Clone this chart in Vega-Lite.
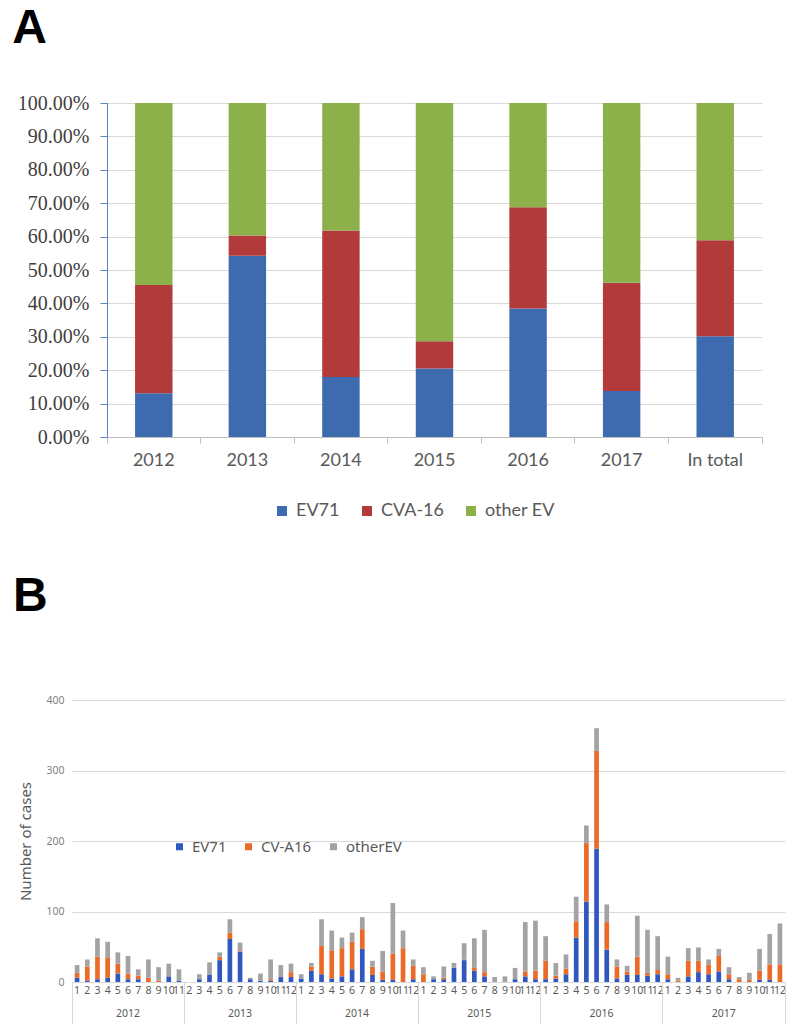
{
  "$schema": "https://vega.github.io/schema/vega-lite/v6.json",
  "background": "white",
  "padding": {"left": 11, "top": 5, "right": 0, "bottom": 0},
  "config": {"view": {"stroke": null}, "font": "Noto Sans"},
  "columns": 1,
  "spacing": 53,
  "resolve": {"scale": {"color": "independent"}, "legend": {"color": "independent"}},
  "datasets": {
    "pct": [
      {"year": "2012", "EV71": 0.131, "CVA-16": 0.324, "other EV": 0.545},
      {"year": "2013", "EV71": 0.543, "CVA-16": 0.060, "other EV": 0.397},
      {"year": "2014", "EV71": 0.180, "CVA-16": 0.438, "other EV": 0.382},
      {"year": "2015", "EV71": 0.205, "CVA-16": 0.082, "other EV": 0.713},
      {"year": "2016", "EV71": 0.385, "CVA-16": 0.303, "other EV": 0.312},
      {"year": "2017", "EV71": 0.138, "CVA-16": 0.324, "other EV": 0.538},
      {"year": "In total", "EV71": 0.302, "CVA-16": 0.287, "other EV": 0.411}
    ],
    "cases": [
      {"period": "2012-1", "EV71": 6, "CV-A16": 7, "otherEV": 11},
      {"period": "2012-2", "EV71": 2, "CV-A16": 20, "otherEV": 10},
      {"period": "2012-3", "EV71": 4, "CV-A16": 32, "otherEV": 26},
      {"period": "2012-4", "EV71": 6, "CV-A16": 29, "otherEV": 22},
      {"period": "2012-5", "EV71": 12, "CV-A16": 14, "otherEV": 16},
      {"period": "2012-6", "EV71": 4, "CV-A16": 8, "otherEV": 25},
      {"period": "2012-7", "EV71": 4, "CV-A16": 5, "otherEV": 9},
      {"period": "2012-8", "EV71": 0, "CV-A16": 6, "otherEV": 26},
      {"period": "2012-9", "EV71": 0, "CV-A16": 2, "otherEV": 19},
      {"period": "2012-10", "EV71": 8, "CV-A16": 0, "otherEV": 18},
      {"period": "2012-11", "EV71": 2, "CV-A16": 0, "otherEV": 16},
      {"period": "2013-2", "EV71": 0, "CV-A16": 0, "otherEV": 0},
      {"period": "2013-3", "EV71": 4, "CV-A16": 0, "otherEV": 7},
      {"period": "2013-4", "EV71": 10, "CV-A16": 0, "otherEV": 18},
      {"period": "2013-5", "EV71": 31, "CV-A16": 5, "otherEV": 6},
      {"period": "2013-6", "EV71": 61, "CV-A16": 9, "otherEV": 19},
      {"period": "2013-7", "EV71": 43, "CV-A16": 1, "otherEV": 12},
      {"period": "2013-8", "EV71": 4, "CV-A16": 0, "otherEV": 2},
      {"period": "2013-9", "EV71": 2, "CV-A16": 0, "otherEV": 10},
      {"period": "2013-10", "EV71": 2, "CV-A16": 2, "otherEV": 28},
      {"period": "2013-11", "EV71": 7, "CV-A16": 0, "otherEV": 17},
      {"period": "2013-12", "EV71": 7, "CV-A16": 7, "otherEV": 12},
      {"period": "2014-1", "EV71": 5, "CV-A16": 0, "otherEV": 6},
      {"period": "2014-2", "EV71": 16, "CV-A16": 6, "otherEV": 5},
      {"period": "2014-3", "EV71": 11, "CV-A16": 40, "otherEV": 38},
      {"period": "2014-4", "EV71": 5, "CV-A16": 40, "otherEV": 28},
      {"period": "2014-5", "EV71": 8, "CV-A16": 40, "otherEV": 15},
      {"period": "2014-6", "EV71": 18, "CV-A16": 39, "otherEV": 13},
      {"period": "2014-7", "EV71": 47, "CV-A16": 28, "otherEV": 17},
      {"period": "2014-8", "EV71": 10, "CV-A16": 12, "otherEV": 8},
      {"period": "2014-9", "EV71": 3, "CV-A16": 12, "otherEV": 29},
      {"period": "2014-10", "EV71": 3, "CV-A16": 37, "otherEV": 72},
      {"period": "2014-11", "EV71": 0, "CV-A16": 48, "otherEV": 25},
      {"period": "2014-12", "EV71": 4, "CV-A16": 19, "otherEV": 9},
      {"period": "2015-1", "EV71": 0, "CV-A16": 11, "otherEV": 10},
      {"period": "2015-2", "EV71": 4, "CV-A16": 0, "otherEV": 4},
      {"period": "2015-3", "EV71": 4, "CV-A16": 2, "otherEV": 16},
      {"period": "2015-4", "EV71": 20, "CV-A16": 0, "otherEV": 7},
      {"period": "2015-5", "EV71": 31, "CV-A16": 1, "otherEV": 23},
      {"period": "2015-6", "EV71": 16, "CV-A16": 4, "otherEV": 42},
      {"period": "2015-7", "EV71": 8, "CV-A16": 6, "otherEV": 60},
      {"period": "2015-8", "EV71": 0, "CV-A16": 0, "otherEV": 7},
      {"period": "2015-9", "EV71": 0, "CV-A16": 0, "otherEV": 8},
      {"period": "2015-10", "EV71": 4, "CV-A16": 0, "otherEV": 16},
      {"period": "2015-11", "EV71": 8, "CV-A16": 7, "otherEV": 70},
      {"period": "2015-12", "EV71": 4, "CV-A16": 12, "otherEV": 71},
      {"period": "2016-1", "EV71": 4, "CV-A16": 26, "otherEV": 35},
      {"period": "2016-2", "EV71": 5, "CV-A16": 4, "otherEV": 18},
      {"period": "2016-3", "EV71": 11, "CV-A16": 8, "otherEV": 20},
      {"period": "2016-4", "EV71": 63, "CV-A16": 23, "otherEV": 35},
      {"period": "2016-5", "EV71": 114, "CV-A16": 83, "otherEV": 25},
      {"period": "2016-6", "EV71": 189, "CV-A16": 139, "otherEV": 32},
      {"period": "2016-7", "EV71": 46, "CV-A16": 39, "otherEV": 25},
      {"period": "2016-8", "EV71": 5, "CV-A16": 17, "otherEV": 10},
      {"period": "2016-9", "EV71": 10, "CV-A16": 5, "otherEV": 8},
      {"period": "2016-10", "EV71": 10, "CV-A16": 26, "otherEV": 58},
      {"period": "2016-11", "EV71": 9, "CV-A16": 4, "otherEV": 61},
      {"period": "2016-12", "EV71": 11, "CV-A16": 6, "otherEV": 48},
      {"period": "2017-1", "EV71": 4, "CV-A16": 7, "otherEV": 25},
      {"period": "2017-2", "EV71": 0, "CV-A16": 2, "otherEV": 4},
      {"period": "2017-3", "EV71": 8, "CV-A16": 22, "otherEV": 18},
      {"period": "2017-4", "EV71": 14, "CV-A16": 16, "otherEV": 19},
      {"period": "2017-5", "EV71": 11, "CV-A16": 14, "otherEV": 7},
      {"period": "2017-6", "EV71": 15, "CV-A16": 22, "otherEV": 10},
      {"period": "2017-7", "EV71": 4, "CV-A16": 7, "otherEV": 10},
      {"period": "2017-8", "EV71": 0, "CV-A16": 4, "otherEV": 3},
      {"period": "2017-9", "EV71": 0, "CV-A16": 3, "otherEV": 10},
      {"period": "2017-10", "EV71": 3, "CV-A16": 13, "otherEV": 31},
      {"period": "2017-11", "EV71": 3, "CV-A16": 22, "otherEV": 43},
      {"period": "2017-12", "EV71": 0, "CV-A16": 25, "otherEV": 58}
    ]
  },
  "concat": [
    {
      "hconcat": [
        {"width": 1, "height": 1, "data": {"values": []}, "mark": "point", "encoding": {}},
        {
          "title": {"text": "A", "anchor": "start", "frame": "bounds", "fontSize": 48, "fontWeight": "bold", "font": "Liberation Sans", "color": "black", "dx": -5, "offset": 40},
          "width": 655,
          "height": 334,
          "data": {"name": "pct"},
          "transform": [
            {"fold": ["EV71", "CVA-16", "other EV"], "as": ["type", "share"]},
            {"calculate": "indexof(['EV71', 'CVA-16', 'other EV'], datum.type)", "as": "stackRank"}
          ],
          "layer": [
            {
              "mark": {"type": "bar", "width": {"band": 0.4}},
              "encoding": {
                "x": {
                  "field": "year", "type": "nominal", "sort": null,
                  "scale": {"paddingInner": 0, "paddingOuter": 0},
                  "axis": {"orient": "bottom", "title": null, "labelAngle": 0, "labelFont": "Lato", "labelFontSize": 18, "labelColor": "#595959", "domainColor": "#BFBFBF", "tickColor": "#BFBFBF", "tickSize": 6, "bandPosition": 0, "labelPadding": 8, "grid": false}
                },
                "y": {
                  "field": "share", "type": "quantitative", "stack": "zero",
                  "scale": {"domain": [0, 1]},
                  "axis": {"title": null, "format": ".2%", "values": [0, 0.1, 0.2, 0.3, 0.4, 0.5, 0.6, 0.7, 0.8, 0.9, 1], "labelOverlap": false, "labelFont": "Liberation Serif", "labelFontSize": 20, "labelColor": "#404040", "domain": true, "domainColor": "#5B85C4", "tickColor": "#5B85C4", "tickSize": 7, "labelPadding": 11, "gridColor": "#D9D9D9"}
                },
                "order": {"field": "stackRank", "type": "quantitative", "sort": "ascending"},
                "color": {
                  "field": "type", "type": "nominal", "sort": ["EV71", "CVA-16", "other EV"],
                  "scale": {"domain": ["EV71", "CVA-16", "other EV"], "range": ["#3E6BAF", "#B23A3B", "#8CB04A"]},
                  "legend": {"orient": "none", "legendX": 262, "legendY": 399, "direction": "horizontal", "title": null, "symbolType": "square", "symbolSize": 100, "symbolStrokeWidth": 0, "labelFont": "Lato", "labelFontSize": 18, "labelColor": "#595959", "columnPadding": 18, "labelOffset": 5}
                }
              }
            },
            {
              "mark": {"type": "point", "opacity": 0},
              "encoding": {
                "x": {
                  "field": "year", "type": "nominal", "sort": null,
                  "axis": {"orient": "bottom", "title": null, "labels": false, "domain": false, "grid": false, "bandPosition": 1, "tickSize": 6, "tickColor": "#BFBFBF", "tickOpacity": {"condition": {"test": "datum.value == 'In total'", "value": 1}, "value": 0}}
                },
                "y": {
                  "field": "share", "type": "quantitative",
                  "axis": {"title": null, "format": ".2%", "values": [0, 0.1, 0.2, 0.3, 0.4, 0.5, 0.6, 0.7, 0.8, 0.9, 1], "labelOverlap": false, "labelFont": "Liberation Serif", "labelFontSize": 20, "labelColor": "#404040", "domain": true, "domainColor": "#5B85C4", "tickColor": "#5B85C4", "tickSize": 7, "labelPadding": 11, "gridColor": "#D9D9D9"}
                }
              }
            }
          ],
          "resolve": {"axis": {"x": "independent"}}
        }
      ],
      "spacing": 0
    },
    {
      "hconcat": [
        {"width": 1, "height": 1, "data": {"values": []}, "mark": "point", "encoding": {}},
        {
          "title": {"text": "B", "anchor": "start", "frame": "bounds", "fontSize": 48, "fontWeight": "bold", "font": "Liberation Sans", "color": "black", "dx": -6, "offset": 74},
          "width": 713,
          "height": 282,
          "data": {"name": "cases"},
          "transform": [
            {"fold": ["EV71", "CV-A16", "otherEV"], "as": ["type", "n"]},
            {"calculate": "indexof(['EV71', 'CV-A16', 'otherEV'], datum.type)", "as": "stackRank"}
          ],
          "layer": [
            {
              "mark": {"type": "bar", "width": {"band": 0.46}},
              "encoding": {
                "x": {
                  "field": "period", "type": "nominal", "sort": null,
                  "scale": {"paddingInner": 0, "paddingOuter": 0},
                  "axis": {"orient": "bottom", "title": null, "labelAngle": 0, "labelExpr": "split(datum.value, '-')[1]", "labelOverlap": false, "labelFontSize": 10.5, "labelColor": "#595959", "labelPadding": 3, "domainColor": "#D9D9D9", "ticks": false, "grid": false}
                },
                "y": {
                  "field": "n", "type": "quantitative", "stack": "zero",
                  "scale": {"domain": [0, 400]},
                  "axis": {"title": "Number of cases", "values": [0, 100, 200, 300, 400], "domain": false, "ticks": false, "labelFontSize": 10.5, "labelColor": "#7F7F7F", "labelPadding": 8, "gridColor": "#D9D9D9", "titleFontSize": 15, "titleFontWeight": "normal", "titleColor": "#595959", "titlePadding": 12}
                },
                "order": {"field": "stackRank", "type": "quantitative", "sort": "ascending"},
                "color": {
                  "field": "type", "type": "nominal", "sort": ["EV71", "CV-A16", "otherEV"],
                  "scale": {"domain": ["EV71", "CV-A16", "otherEV"], "range": ["#2F57C0", "#EB6A27", "#A3A3A3"]},
                  "legend": {"orient": "none", "legendX": 161, "legendY": 139, "direction": "horizontal", "title": null, "symbolType": "square", "symbolSize": 49, "symbolStrokeWidth": 0, "labelFontSize": 15, "labelColor": "#595959", "columnPadding": 14, "labelOffset": 5}
                }
              }
            },
            {
              "mark": {"type": "point", "opacity": 0},
              "encoding": {
                "x": {
                  "field": "period", "type": "nominal", "sort": null,
                  "axis": {"orient": "bottom", "title": null, "labels": false, "domain": false, "grid": false, "bandPosition": 0, "tickSize": 42, "tickColor": "#D9D9D9", "tickOpacity": {"condition": {"test": "split(datum.value, '-')[1] == '1' || datum.value == '2013-2'", "value": 1}, "value": 0}}
                },
                "y": {"field": "n", "type": "quantitative"}
              }
            },
            {
              "mark": {"type": "point", "opacity": 0},
              "encoding": {
                "x": {
                  "field": "period", "type": "nominal", "sort": null,
                  "axis": {"orient": "bottom", "title": null, "labels": false, "domain": false, "grid": false, "bandPosition": 1, "tickSize": 42, "tickColor": "#D9D9D9", "tickOpacity": {"condition": {"test": "datum.value == '2017-12'", "value": 1}, "value": 0}}
                },
                "y": {"field": "n", "type": "quantitative"}
              }
            },
            {
              "mark": {"type": "point", "opacity": 0},
              "encoding": {
                "x": {
                  "field": "period", "type": "nominal", "sort": null,
                  "axis": {"orient": "bottom", "title": null, "values": ["2012-6", "2013-7", "2014-6", "2015-6", "2016-6", "2017-6"], "labelExpr": "split(datum.value, '-')[0]", "labelAngle": 0, "ticks": false, "domain": false, "grid": false, "labelFontSize": 10.5, "labelColor": "#595959", "labelPadding": 26, "labelOffset": {"condition": {"test": "datum.value == '2012-6' || datum.value == '2013-7'", "value": 0}, "value": 5}}
                },
                "y": {"field": "n", "type": "quantitative"}
              }
            }
          ],
          "resolve": {"axis": {"x": "independent"}}
        }
      ],
      "spacing": 0
    }
  ]
}
